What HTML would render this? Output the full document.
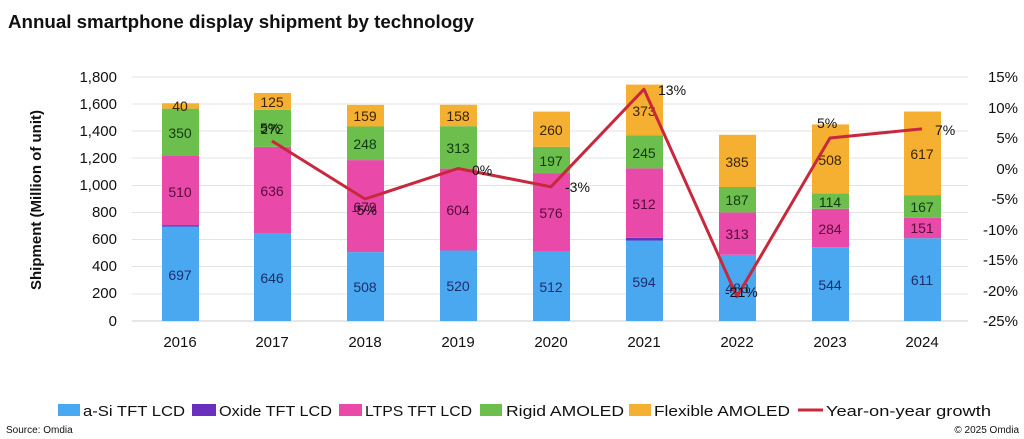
<!DOCTYPE html>
<html><head><meta charset="utf-8"><style>
html,body{margin:0;padding:0;background:#fff;}
svg{display:block;font-family:"Liberation Sans",sans-serif;}
</style></head><body>
<svg width="1024" height="439" viewBox="0 0 1024 439" xmlns="http://www.w3.org/2000/svg">
<text x="8" y="28" font-size="18" font-weight="bold" fill="#111" textLength="466" lengthAdjust="spacingAndGlyphs">Annual smartphone display shipment by technology</text>
<g stroke="#e3e3e3" stroke-width="1">
<line x1="132" x2="968" y1="77" y2="77"/><line x1="132" x2="968" y1="104" y2="104"/><line x1="132" x2="968" y1="131" y2="131"/><line x1="132" x2="968" y1="158" y2="158"/><line x1="132" x2="968" y1="185.5" y2="185.5"/><line x1="132" x2="968" y1="212.5" y2="212.5"/><line x1="132" x2="968" y1="239.5" y2="239.5"/><line x1="132" x2="968" y1="266.5" y2="266.5"/><line x1="132" x2="968" y1="294" y2="294"/>
</g>
<line x1="132" x2="968" y1="321" y2="321" stroke="#ccc"/>
<g font-size="15" fill="#111" text-anchor="end">
<text x="117" y="82">1,800</text><text x="117" y="109">1,600</text><text x="117" y="136">1,400</text><text x="117" y="163">1,200</text><text x="117" y="190">1,000</text><text x="117" y="217">800</text><text x="117" y="244">600</text><text x="117" y="271">400</text><text x="117" y="298">200</text><text x="117" y="326">0</text>
</g>
<g font-size="15" fill="#111" text-anchor="end">
<text x="1018" y="82">15%</text><text x="1018" y="113">10%</text><text x="1018" y="143">5%</text><text x="1018" y="174">0%</text><text x="1018" y="204">-5%</text><text x="1018" y="235">-10%</text><text x="1018" y="265">-15%</text><text x="1018" y="296">-20%</text><text x="1018" y="326">-25%</text>
</g>
<text transform="translate(41,200) rotate(-90)" font-size="15" font-weight="bold" fill="#111" text-anchor="middle">Shipment (Million of unit)</text>
<g font-size="15" fill="#111" text-anchor="middle">
<text x="180" y="347">2016</text><text x="272" y="347">2017</text><text x="365" y="347">2018</text><text x="458" y="347">2019</text><text x="551" y="347">2020</text><text x="644" y="347">2021</text><text x="737" y="347">2022</text><text x="830" y="347">2023</text><text x="922" y="347">2024</text>
</g>
<g>
<rect x="162" y="226.5" width="37" height="94.5" fill="#4aa8f0"/><rect x="162" y="225.1" width="37" height="1.4" fill="#6a2fbf"/><rect x="162" y="156" width="37" height="69.1" fill="#e94aaa"/><rect x="162" y="108.6" width="37" height="47.4" fill="#6cbf4c"/><rect x="162" y="103.2" width="37" height="5.4" fill="#f5b032"/>
<rect x="254" y="233.4" width="37" height="87.6" fill="#4aa8f0"/><rect x="254" y="146.8" width="37" height="86.6" fill="#e94aaa"/><rect x="254" y="109.9" width="37" height="36.9" fill="#6cbf4c"/><rect x="254" y="93" width="37" height="16.9" fill="#f5b032"/>
<rect x="347" y="252.1" width="37" height="68.9" fill="#4aa8f0"/><rect x="347" y="160.1" width="37" height="92" fill="#e94aaa"/><rect x="347" y="126.5" width="37" height="33.6" fill="#6cbf4c"/><rect x="347" y="104.9" width="37" height="21.6" fill="#f5b032"/>
<rect x="440" y="250.5" width="37" height="70.5" fill="#4aa8f0"/><rect x="440" y="168.6" width="37" height="81.9" fill="#e94aaa"/><rect x="440" y="126.2" width="37" height="42.4" fill="#6cbf4c"/><rect x="440" y="104.8" width="37" height="21.4" fill="#f5b032"/>
<rect x="533" y="251.6" width="37" height="69.4" fill="#4aa8f0"/><rect x="533" y="173.5" width="37" height="78.1" fill="#e94aaa"/><rect x="533" y="146.8" width="37" height="26.7" fill="#6cbf4c"/><rect x="533" y="111.6" width="37" height="35.2" fill="#f5b032"/>
<rect x="626" y="240.5" width="37" height="80.5" fill="#4aa8f0"/><rect x="626" y="237.8" width="37" height="2.7" fill="#6a2fbf"/><rect x="626" y="168.4" width="37" height="69.4" fill="#e94aaa"/><rect x="626" y="135.2" width="37" height="33.2" fill="#6cbf4c"/><rect x="626" y="84.6" width="37" height="50.6" fill="#f5b032"/>
<rect x="719" y="254.8" width="37" height="66.2" fill="#4aa8f0"/><rect x="719" y="212.4" width="37" height="42.4" fill="#e94aaa"/><rect x="719" y="187" width="37" height="25.4" fill="#6cbf4c"/><rect x="719" y="134.8" width="37" height="52.2" fill="#f5b032"/>
<rect x="812" y="247.3" width="37" height="73.7" fill="#4aa8f0"/><rect x="812" y="208.8" width="37" height="38.5" fill="#e94aaa"/><rect x="812" y="193.3" width="37" height="15.5" fill="#6cbf4c"/><rect x="812" y="124.4" width="37" height="68.9" fill="#f5b032"/>
<rect x="904" y="238.2" width="37" height="82.8" fill="#4aa8f0"/><rect x="904" y="217.7" width="37" height="20.5" fill="#e94aaa"/><rect x="904" y="195.1" width="37" height="22.6" fill="#6cbf4c"/><rect x="904" y="111.5" width="37" height="83.6" fill="#f5b032"/>
</g>
<g font-size="14" text-anchor="middle">
<g fill="#1a2f6a">
<text x="180" y="280">697</text><text x="272" y="283">646</text><text x="365" y="292">508</text><text x="458" y="291">520</text><text x="551" y="292">512</text><text x="644" y="287">594</text><text x="737" y="293">488</text><text x="830" y="290">544</text><text x="922" y="285">611</text>
</g>
<g fill="#5a0a3a">
<text x="180" y="197">510</text><text x="272" y="196">636</text><text x="365" y="212">679</text><text x="458" y="215">604</text><text x="551" y="218">576</text><text x="644" y="209">512</text><text x="737" y="239">313</text><text x="830" y="234">284</text><text x="922" y="233">151</text>
</g>
<g fill="#0e3a0e">
<text x="180" y="138">350</text><text x="272" y="134">272</text><text x="365" y="149">248</text><text x="458" y="153">313</text><text x="551" y="166">197</text><text x="644" y="158">245</text><text x="737" y="205">187</text><text x="830" y="207">114</text><text x="922" y="212">167</text>
</g>
<g fill="#3a2400">
<text x="180" y="111">40</text><text x="272" y="107">125</text><text x="365" y="121">159</text><text x="458" y="121">158</text><text x="551" y="135">260</text><text x="644" y="116">373</text><text x="737" y="167">385</text><text x="830" y="165">508</text><text x="922" y="159">617</text>
</g>
</g>
<polyline points="272,141 365,199 458,168.5 551,186.8 644,89.2 737,296.6 830,138 922,128.9" fill="none" stroke="#c8283c" stroke-width="3" stroke-linejoin="round"/>
<g font-size="14" fill="#111">
<text x="260" y="133">5%</text><text x="352" y="215">-5%</text><text x="472" y="175">0%</text><text x="565" y="192">-3%</text><text x="658" y="95">13%</text><text x="725" y="297">-21%</text><text x="817" y="128">5%</text><text x="935" y="135">7%</text>
</g>
<g font-size="15" fill="#111">
<rect x="58" y="404" width="22" height="12" fill="#4aa8f0"/><text x="83" y="416" textLength="102" lengthAdjust="spacingAndGlyphs">a-Si TFT LCD</text>
<rect x="192" y="404" width="24" height="12" fill="#6a2fbf"/><text x="219" y="416" textLength="113" lengthAdjust="spacingAndGlyphs">Oxide TFT LCD</text>
<rect x="339" y="404" width="23" height="12" fill="#e94aaa"/><text x="365" y="416" textLength="107" lengthAdjust="spacingAndGlyphs">LTPS TFT LCD</text>
<rect x="480" y="404" width="22" height="12" fill="#6cbf4c"/><text x="506" y="416" textLength="118" lengthAdjust="spacingAndGlyphs">Rigid AMOLED</text>
<rect x="629" y="404" width="22" height="12" fill="#f5b032"/><text x="654" y="416" textLength="136" lengthAdjust="spacingAndGlyphs">Flexible AMOLED</text>
<line x1="798" x2="823" y1="410" y2="410" stroke="#c8283c" stroke-width="3"/><text x="826" y="416" textLength="165" lengthAdjust="spacingAndGlyphs">Year-on-year growth</text>
</g>
<text x="6" y="433" font-size="10" fill="#111">Source: Omdia</text>
<text x="1019" y="433" font-size="10" fill="#111" text-anchor="end">© 2025 Omdia</text>
</svg>
</body></html>
